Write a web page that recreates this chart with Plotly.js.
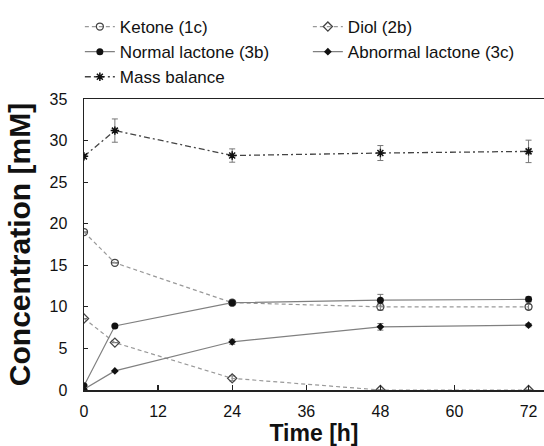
<!DOCTYPE html>
<html><head><meta charset="utf-8">
<script src="https://cdn.plot.ly/plotly-3.0.1.min.js"></script>
<style>html,body{margin:0;padding:0;background:#fff}#chart{width:544px;height:446px}</style>
</head><body><div id="chart"></div>
<script>
const timeH = [0, 5, 24, 48, 72];
const ketone = [19.0, 15.3, 10.5, 10.0, 10.0];
const ketoneErr = [0, 0, 0.3, 0.4, 0.3];
const diol = [8.6, 5.7, 1.4, 0, 0];
const diolErr = [0, 0, 0.3, 0, 0];
const normalLactone = [0.5, 7.7, 10.5, 10.8, 10.9];
const normalErr = [0, 0, 0.3, 0.7, 0.3];
const abnormalLactone = [0.1, 2.3, 5.8, 7.6, 7.8];
const abnormalErr = [0, 0, 0.3, 0.4, 0.2];
const massBalance = [28.1, 31.2, 28.2, 28.5, 28.7];
const massErr = [0, 1.4, 0.8, 0.9, 1.35];
const xTicks = [0, 12, 24, 36, 48, 60, 72];
const yTicks = [0, 5, 10, 15, 20, 25, 30, 35];

const errStyle = (arr) => ({type: 'data', array: arr, visible: true, color: '#777', thickness: 1, width: 3});

const traces = [
  {x: timeH, y: ketone, name: 'Ketone (1c)', mode: 'lines+markers',
   line: {color: '#999', width: 1.2, dash: '4px,3px'},
   marker: {symbol: 'circle-open', size: 7, color: '#444', line: {width: 1.3}},
   error_y: errStyle(ketoneErr)},
  {x: timeH, y: diol, name: 'Diol (2b)', mode: 'lines+markers',
   line: {color: '#999', width: 1.2, dash: '4px,3px'},
   marker: {symbol: 'diamond-open', size: 7, color: '#444', line: {width: 1.3}},
   error_y: errStyle(diolErr)},
  {x: timeH, y: normalLactone, name: 'Normal lactone (3b)', mode: 'lines+markers',
   line: {color: '#808080', width: 1.2},
   marker: {symbol: 'circle', size: 7, color: '#111'},
   error_y: errStyle(normalErr)},
  {x: timeH, y: abnormalLactone, name: 'Abnormal lactone (3c)', mode: 'lines+markers',
   line: {color: '#808080', width: 1.2},
   marker: {symbol: 'diamond', size: 6, color: '#111'},
   error_y: errStyle(abnormalErr)},
  {x: timeH, y: massBalance, name: 'Mass balance', mode: 'lines+markers',
   line: {color: '#444', width: 1.3, dash: '6px,3px,2px,3px'},
   marker: {symbol: 'asterisk-open', size: 7, color: '#111', line: {width: 1.5, color: '#111'}},
   error_y: errStyle(massErr)}
];

const layout = {
  width: 544, height: 446,
  margin: {l: 84, r: 0, t: 99, b: 56},
  paper_bgcolor: '#fff', plot_bgcolor: '#fff',
  font: {family: 'Liberation Sans, Arial, sans-serif', size: 16, color: '#111'},
  showlegend: true,
  legend: {orientation: 'h', x: -0.009, xanchor: 'left', y: 1 + 90 / 291, yanchor: 'top',
           entrywidth: 183, entrywidthmode: 'pixels',
           font: {size: 17, color: '#111'}, bgcolor: 'rgba(0,0,0,0)', tracegroupgap: 0},
  xaxis: {range: [0, 74.5], tickvals: xTicks, ticktext: xTicks.map(String),
          ticks: 'inside', ticklen: 5, tickwidth: 1.2, tickcolor: '#222',
          ticklabelstandoff: 6,
          showline: true, linecolor: '#222', linewidth: 1.5, mirror: true,
          showgrid: false, zeroline: false,
          title: {text: '<b>Time [h]</b>', font: {size: 23}, standoff: 0}},
  yaxis: {range: [0, 35], tickvals: yTicks, ticktext: yTicks.map(String),
          ticks: 'inside', ticklen: 4, tickwidth: 1, tickcolor: '#222',
          ticklabelstandoff: 12,
          showline: true, linecolor: '#222', linewidth: 1.5, mirror: true,
          showgrid: false, zeroline: false,
          title: {text: '<b>Concentration [mM]</b>', font: {size: 30}, standoff: 10}}
};

Plotly.newPlot('chart', traces, layout, {displayModeBar: false, staticPlot: true});
</script></body></html>
